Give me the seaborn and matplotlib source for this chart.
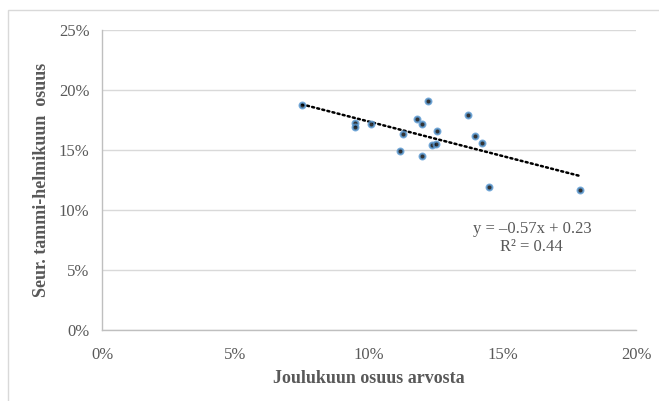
import numpy as np
import pandas as pd
import matplotlib.pyplot as plt
import seaborn as sns
from matplotlib.ticker import PercentFormatter
from matplotlib.patches import Rectangle

# December share of value vs. share of following Jan-Feb
joulukuu = [0.0749, 0.0948, 0.0948, 0.1007, 0.1117, 0.1127, 0.1179, 0.1200, 0.1222,
            0.1200, 0.1236, 0.1251, 0.1253, 0.1371, 0.1397, 0.1423, 0.1448, 0.1791]
tammi_helmi = [0.1875, 0.1727, 0.1689, 0.1714, 0.1493, 0.1632, 0.1758, 0.1714, 0.1908,
               0.1448, 0.1541, 0.1550, 0.1655, 0.1794, 0.1619, 0.1562, 0.1193, 0.1169]
x_ticks = [0, 0.05, 0.10, 0.15, 0.20]
y_ticks = [0, 0.05, 0.10, 0.15, 0.20, 0.25]

df = pd.DataFrame({'joulu': joulukuu, 'tammi': tammi_helmi})

sns.set_style('white')
plt.rcParams['font.family'] = ['Liberation Serif', 'DejaVu Serif']

grey = '#595959'
fig = plt.figure(figsize=(6.59, 4.01), dpi=100)
# chart frame like in the original
fig.patches.append(Rectangle((8 / 659, -0.1), 1.2, 1 - 10 / 401 + 0.1, transform=fig.transFigure,
                             fill=False, edgecolor='#d9d9d9', linewidth=1))
ax = fig.add_axes([102 / 659, 1 - 330 / 401, 534 / 659, 300 / 401])

sns.regplot(data=df, x='joulu', y='tammi', ax=ax, ci=None,
            scatter_kws={'s': 18, 'color': 'black', 'edgecolor': '#5b9bd5', 'linewidths': 1.5, 'zorder': 3},
            line_kws={'color': 'black', 'linewidth': 1.8, 'linestyle': (0, (0.8, 1.3)),
                      'dash_capstyle': 'round', 'zorder': 2})

ax.set_xlim(0, 0.20)
ax.set_ylim(0, 0.25)
ax.set_xticks(x_ticks)
ax.set_yticks(y_ticks)
ax.xaxis.set_major_formatter(PercentFormatter(1, decimals=0))
ax.yaxis.set_major_formatter(PercentFormatter(1, decimals=0))
ax.tick_params(axis='both', length=0, labelsize=12, labelcolor=grey)
ax.tick_params(axis='x', pad=12)
ax.tick_params(axis='y', pad=9)

ax.grid(axis='y', color='#d9d9d9', linewidth=1)
ax.set_axisbelow(True)
for side in ['top', 'right']:
    ax.spines[side].set_visible(False)
for side in ['left', 'bottom']:
    ax.spines[side].set_color('#bfbfbf')
    ax.spines[side].set_linewidth(1)

ax.set_xlabel('Joulukuun osuus arvosta', fontsize=13, fontweight='bold', color=grey, labelpad=5)
ax.set_ylabel('Seur. tammi-helmikuun  osuus', fontsize=13, fontweight='bold', color=grey, labelpad=6)

ax.text(0.161, 0.0767, 'y = \u20130.57x + 0.23\nR\u00b2 = 0.44', ha='center', va='center',
        fontsize=12, color=grey, linespacing=1.15)

fig.savefig('out.png', dpi=100)
